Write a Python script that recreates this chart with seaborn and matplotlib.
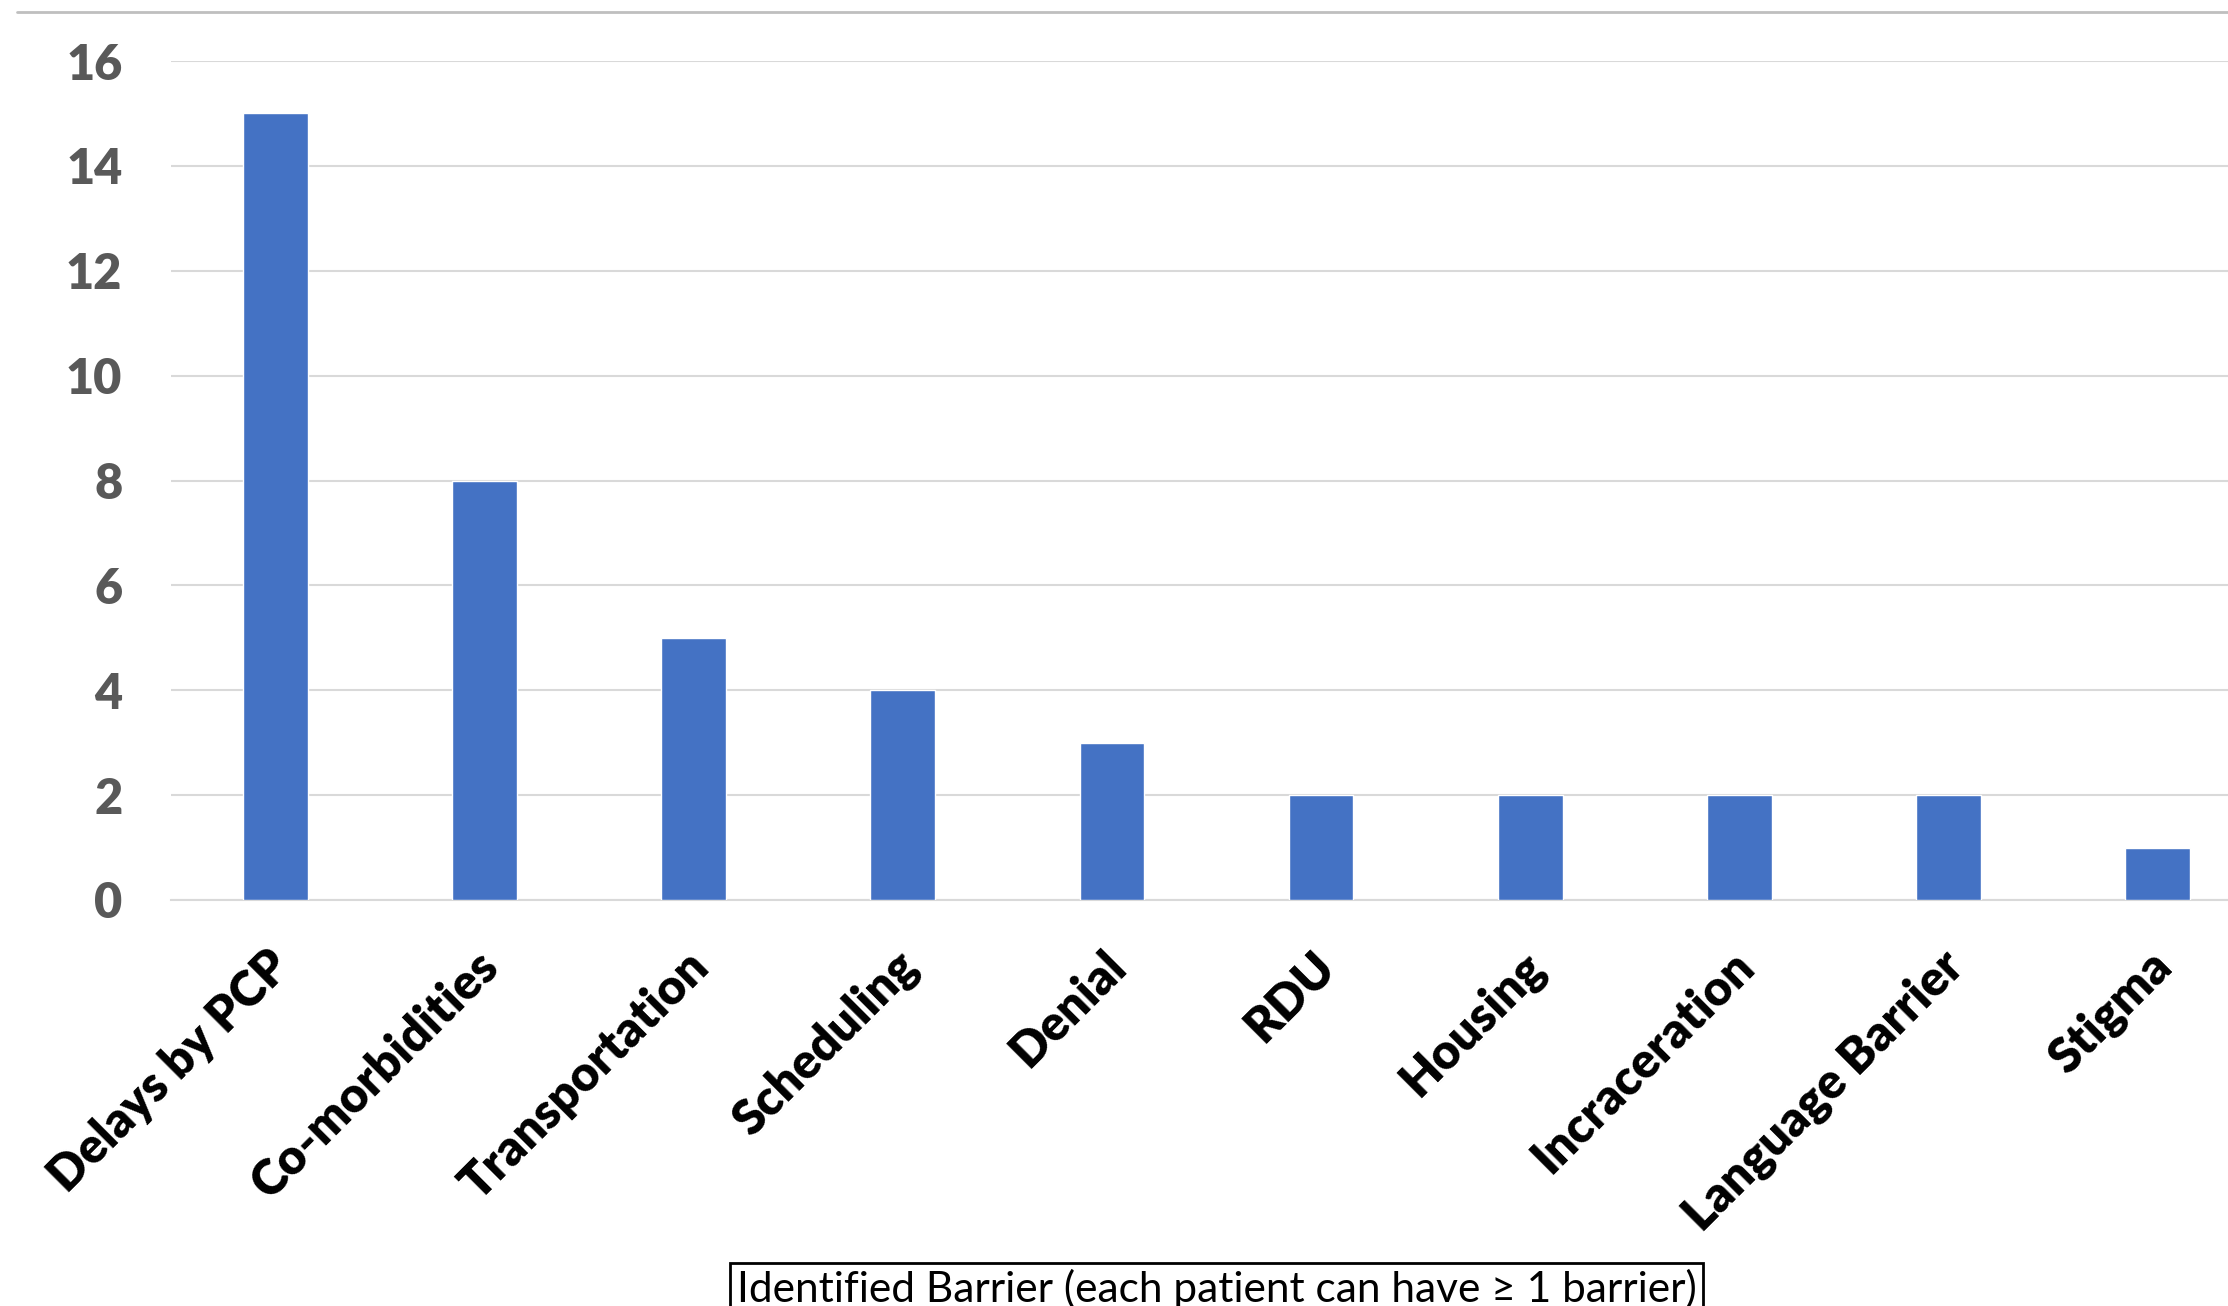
import matplotlib
matplotlib.use("Agg")
import matplotlib.pyplot as plt
import matplotlib.transforms as mtransforms
import seaborn as sns
import pandas as pd
from matplotlib.lines import Line2D

categories = ["Delays by PCP", "Co-morbidities", "Transportation", "Scheduling", "Denial",
              "RDU", "Housing", "Incraceration", "Language Barrier", "Stigma"]
counts = [15, 8, 5, 4, 3, 2, 2, 2, 2, 1]
y_ticks = [0, 2, 4, 6, 8, 10, 12, 14, 16]
x_title = "Identified Barrier (each patient can have \u2265 1 barrier)"

df = pd.DataFrame({"barrier": categories, "count": counts})

sns.set_theme(style="white")
plt.rcParams["font.family"] = ["Lato", "DejaVu Sans"]

fig = plt.figure(figsize=(22.28, 13.06), dpi=100)
ax = fig.add_axes([171 / 2228, 1 - 900 / 1306, 2091 / 2228, (900 - 61) / 1306])

sns.barplot(data=df, x="barrier", y="count", color="#4472C4", width=0.31,
            saturation=1, ax=ax, zorder=3)

ax.set_ylim(0, 16)
ax.set_xlim(-0.5, len(categories) - 0.5)
ax.set_yticks(y_ticks)
ax.yaxis.grid(True, color="#D9D9D9", linewidth=1.5, zorder=0)
ax.set_axisbelow(True)
for s in ["top", "right", "left"]:
    ax.spines[s].set_visible(False)
ax.spines["bottom"].set_color("#D9D9D9")
ax.spines["bottom"].set_linewidth(1.5)

ax.tick_params(axis="y", length=0, pad=35, labelsize=35, labelcolor="#595959")
for t in ax.get_yticklabels():
    t.set_fontweight("heavy")
ax.tick_params(axis="x", length=0, pad=31)
ax.set_xticks(range(len(categories)))
ax.set_xticklabels(categories, rotation=45, ha="right", rotation_mode="anchor",
                   fontsize=35, fontweight="heavy", color="black")
shift = mtransforms.ScaledTranslation(-0.09, 0, fig.dpi_scale_trans)
for t in ax.get_xticklabels():
    t.set_transform(t.get_transform() + shift)

ax.set_ylabel("")
ax.set_xlabel(x_title, fontsize=30.5, color="black", va="top",
              bbox=dict(boxstyle="square,pad=0.15", fc="white", ec="black", lw=2))
ax.xaxis.set_label_coords(0.5, -0.44)

fig.add_artist(Line2D([17 / 2228, 1], [1 - 12 / 1306, 1 - 12 / 1306],
                      transform=fig.transFigure, color="#BFBFBF", linewidth=2))

fig.savefig("out.png", dpi=100)
